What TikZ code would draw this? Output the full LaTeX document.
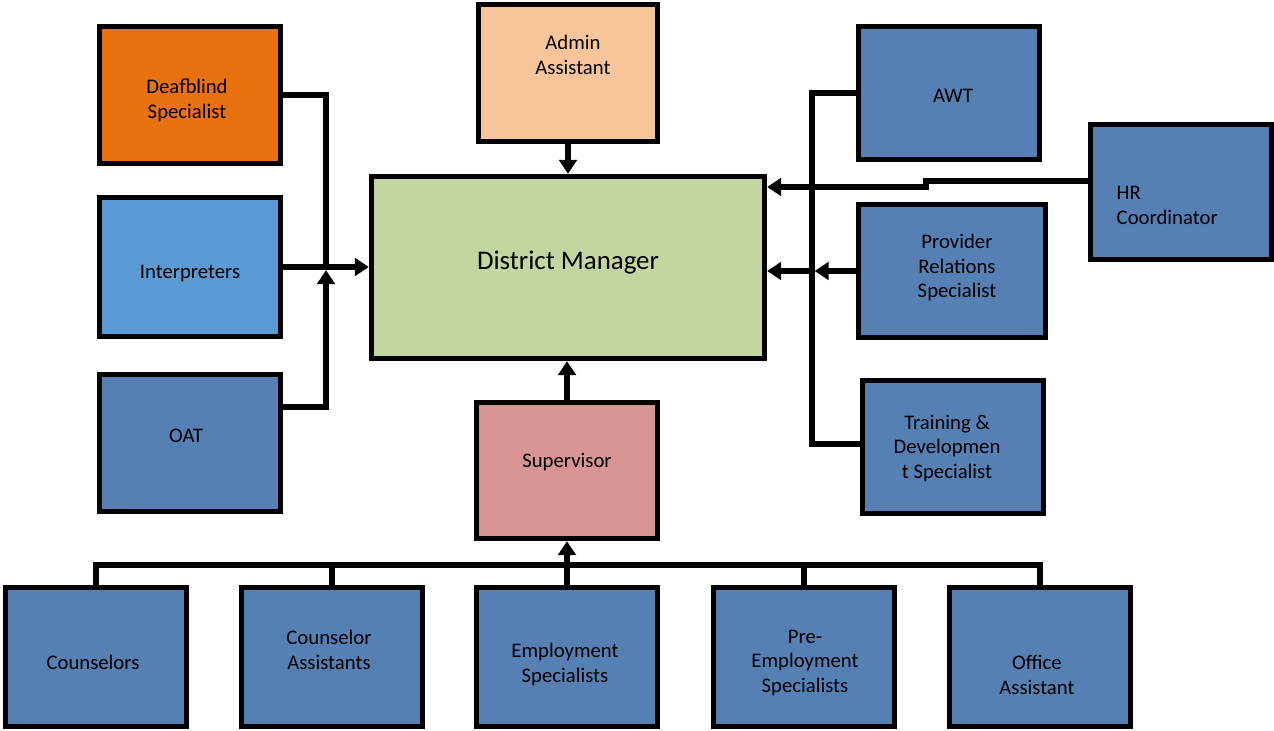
\documentclass[tikz,border=0pt]{standalone}
\usepackage{fontspec}
\setmainfont{Carlito}
\usetikzlibrary{arrows.meta}
\definecolor{deafc}{RGB}{233,113,16}
\definecolor{interpc}{RGB}{91,155,213}
\definecolor{staffc}{RGB}{86,128,180}
\definecolor{adminc}{RGB}{248,196,153}
\definecolor{dmc}{RGB}{196,214,160}
\definecolor{supc}{RGB}{217,149,148}
\tikzset{
	box/.style={draw, line width=3pt, fill=staffc, minimum width=3.62cm, minimum height=2.74cm},
	txt/.style={font=\fontsize{11.8}{14.2}\selectfont, align=center, inner sep=0pt},
	line/.style={line width=3pt},
	arr/.style={line width=3pt, -{Triangle[width=10pt,length=8pt]}}
}
\begin{document}
\begin{tikzpicture}
		\useasboundingbox (0,0) rectangle (25.48,-14.62);
		\node[box, fill=deafc, label={[txt,shift={(-0.06,-0.11)}]center:{Deafblind\\Specialist}}] (deaf) at (3.8,-1.9) {};
		\node[box, fill=interpc, minimum height=2.78cm, label={[txt,yshift=-0.14cm]center:Interpreters}] (interp) at (3.8,-5.34) {};
		\node[box, label={[txt,shift={(-0.08,0.14)}]center:OAT}] (oat) at (3.8,-8.86) {};
		\node[box, fill=adminc, minimum width=3.58cm, label={[txt,shift={(0.1,0.36)}]center:{Admin\\Assistant}}] (admin) at (11.36,-1.46) {};
		\node[box, fill=dmc, minimum width=7.86cm, minimum height=3.64cm, label={[txt,font=\fontsize{15.3}{18}\selectfont,yshift=0.1cm]center:District Manager}] (dm) at (11.36,-5.35) {};
		\node[box, fill=supc, minimum height=2.72cm, label={[txt,yshift=0.16cm]center:Supervisor}] (sup) at (11.34,-9.41) {};
		\node[box, minimum height=2.66cm, label={[txt,shift={(0.08,-0.05)}]center:AWT}] (awt) at (18.98,-1.86) {};
		\node[box, minimum height=2.7cm, label={[txt,align=left,anchor=west,shift={(0.57,-0.27)}]west:{HR\\Coordinator}}] (hr) at (23.62,-3.84) {};
		\node[box, minimum width=3.74cm, minimum height=2.66cm, label={[txt,shift={(0.1,0.07)}]center:{Provider\\Relations\\Specialist}}] (pr) at (19.04,-5.42) {};
		\node[box, minimum height=2.66cm, label={[txt,shift={(-0.12,-0.03)}]center:{Training \&\\Developmen\\t Specialist}}] (train) at (19.06,-8.94) {};
		\node[box, minimum height=2.78cm, label={[txt,shift={(-0.06,-0.1)}]center:Counselors}] (couns) at (1.92,-13.14) {};
		\node[box, minimum height=2.78cm, label={[txt,shift={(-0.06,0.14)}]center:{Counselor\\Assistants}}] (assist) at (6.64,-13.14) {};
		\node[box, minimum height=2.78cm, label={[txt,shift={(-0.04,-0.14)}]center:{Employment\\Specialists}}] (emp) at (11.34,-13.14) {};
		\node[box, minimum height=2.78cm, label={[txt,shift={(0.02,-0.12)}]center:{Pre-\\Employment\\Specialists}}] (preemp) at (16.08,-13.14) {};
		\node[box, minimum height=2.78cm, label={[txt,shift={(-0.06,-0.35)}]center:{Office\\Assistant}}] (office) at (20.8,-13.14) {};
		\coordinate (lj) at (6.52,-5.35);
		\coordinate (rj) at (16.24,-5.42);
		\coordinate (hrk) at (18.52,-3.74);
		\coordinate (bus) at (11.34,-11.3);
		\draw[line] (deaf.east) -| (lj);
		\draw[arr] (interp.east) -- (interp.east -| dm.west);
		\draw[arr, shorten >=1.5pt] ([yshift=0.72cm]oat.east) -| (lj);
		\draw[arr] (admin.south) -- (dm.north);
		\draw[arr] (sup.north) -- (sup.north |- dm.south);
		\draw[line] (awt.west) -| (rj) |- ([yshift=0.06cm]train.west);
		\draw[arr, shorten >=1.5pt] (pr.west) -- (rj);
		\draw[arr] (rj) -- (rj -| dm.east);
		\draw[arr] ([yshift=0.22cm]hr.west) -| (hrk) -- (hrk -| dm.east);
		\draw[line] (couns.north) |- (office.north |- bus) -- (office.north);
		\foreach \n in {assist,preemp}
			\draw[line] (\n.north) -- (\n.north |- bus);
		\draw[arr] (emp.north) -- (sup.south);
\end{tikzpicture}
\end{document}
